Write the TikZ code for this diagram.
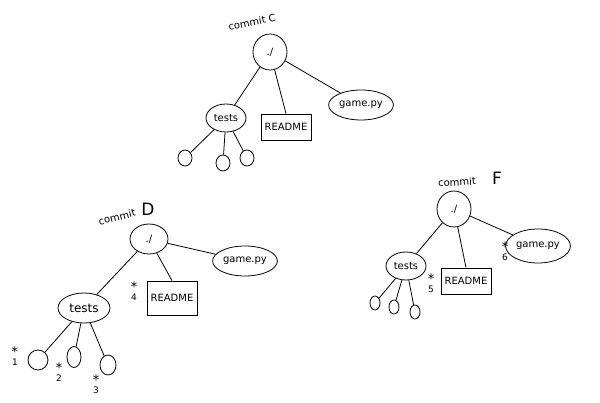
\documentclass[tikz,border=0pt]{standalone}
\usepackage{fontspec}
\setmainfont{DejaVu Sans}
\usetikzlibrary{shapes.geometric}
\newcommand{\stk}[1]{{\fontsize{13}{9}\selectfont *}\\#1}
\begin{document}
\begin{tikzpicture}[x=1pt,y=-1pt,
  every node/.style={font=\fontsize{10}{11}\selectfont},
  conn/.style={draw,line width=0.8pt},
  rootnode/.style={draw,line width=0.8pt,ellipse,inner sep=0pt,minimum width=34pt,minimum height=36pt},
  dirnode/.style={draw,line width=0.8pt,ellipse,inner sep=1pt,minimum height=28pt,minimum width=40pt},
  pynode/.style={draw,line width=0.8pt,ellipse,inner sep=1pt,minimum height=30pt,minimum width=50pt},
  filenode/.style={draw,line width=0.8pt,rectangle,inner sep=3pt,minimum height=26pt,minimum width=50pt},
  leaf/.style={draw,line width=0.8pt,ellipse,inner sep=0pt,minimum width=14pt,minimum height=16pt},
  commitlbl/.style={font=\fontsize{10}{11}\selectfont,inner sep=1pt},
  biglbl/.style={font=\fontsize{17}{17}\selectfont,inner sep=1pt},
  starlbl/.style={align=center,inner sep=0pt,font=\fontsize{9}{9}\selectfont}
]
\useasboundingbox (0,0) rectangle (600,402);
% ---------- Commit C ----------
\node[commitlbl,rotate=12] (cC) at (252,22) {commit C};
\node[rootnode] (rC) at (270,52) {./};
\node[dirnode] (tC) at (226,118) {tests};
\node[filenode] (fC) at (286,127) {README};
\node[pynode,minimum width=54pt] (gC) at (361,105) {game.py};
\node[leaf] (lC1) at (185,158) {};
\node[leaf] (lC2) at (223,163) {};
\node[leaf] (lC3) at (247,158) {};
\draw[conn] (rC) -- (tC);
\draw[conn] (rC) -- (fC.north);
\draw[conn] (rC) -- (gC);
\draw[conn] (tC) -- (lC1);
\draw[conn] (tC) -- (lC2);
\draw[conn] (tC) -- (lC3);
% ---------- Commit D ----------
\node[commitlbl,rotate=14] (cD) at (117,217) {commit};
\node[biglbl] (cDl) at (148,209) {D};
\node[rootnode,minimum width=38pt,minimum height=30pt] (rD) at (149,239) {./};
\node[dirnode,minimum width=52pt,minimum height=30pt,font=\fontsize{12}{12}\selectfont] (tD) at (84,308) {tests};
\node[filenode,minimum height=34pt] (fD) at (172,298) {README};
\node[pynode,minimum width=46pt] (gD) at (245,261) {game.py};
\node[leaf,minimum width=20pt,minimum height=20pt] (lD1) at (38,360) {};
\node[leaf,minimum width=14pt,minimum height=21pt] (lD2) at (74,357) {};
\node[leaf,minimum width=16pt,minimum height=20pt] (lD3) at (108,365) {};
\draw[conn] (rD) -- (tD);
\draw[conn] (rD) -- (fD.north);
\draw[conn] (rD) -- (gD);
\draw[conn] (tD) -- (lD1);
\draw[conn] (tD) -- (lD2);
\draw[conn] (tD) -- (lD3);
\node[starlbl] (sD1) at (15,356) {\stk{1}};
\node[starlbl] (sD2) at (59,372) {\stk{2}};
\node[starlbl] (sD3) at (96,384) {\stk{3}};
\node[starlbl] (sD4) at (134,291) {\stk{4}};
% ---------- Commit F ----------
\node[commitlbl,rotate=3] (cF) at (457,182) {commit};
\node[biglbl] (cFl) at (497,178) {F};
\node[rootnode] (rF) at (454,209) {./};
\node[dirnode] (tF) at (406,266) {tests};
\node[filenode] (fF) at (466,281) {README};
\node[pynode,minimum height=34pt] (gF) at (538,246) {game.py};
\node[leaf,minimum width=10pt,minimum height=14pt] (lF1) at (375,303) {};
\node[leaf,minimum width=10pt,minimum height=14pt] (lF2) at (394,307) {};
\node[leaf,minimum width=10pt,minimum height=14pt] (lF3) at (415,312) {};
\draw[conn] (rF) -- (tF);
\draw[conn] (rF) -- (fF.north);
\draw[conn] (rF) -- (gF);
\draw[conn] (tF) -- (lF1);
\draw[conn] (tF) -- (lF2);
\draw[conn] (tF) -- (lF3);
\node[starlbl] (sF5) at (431,283) {\stk{5}};
\node[starlbl] (sF6) at (505,251) {\stk{6}};
\end{tikzpicture}
\end{document}
